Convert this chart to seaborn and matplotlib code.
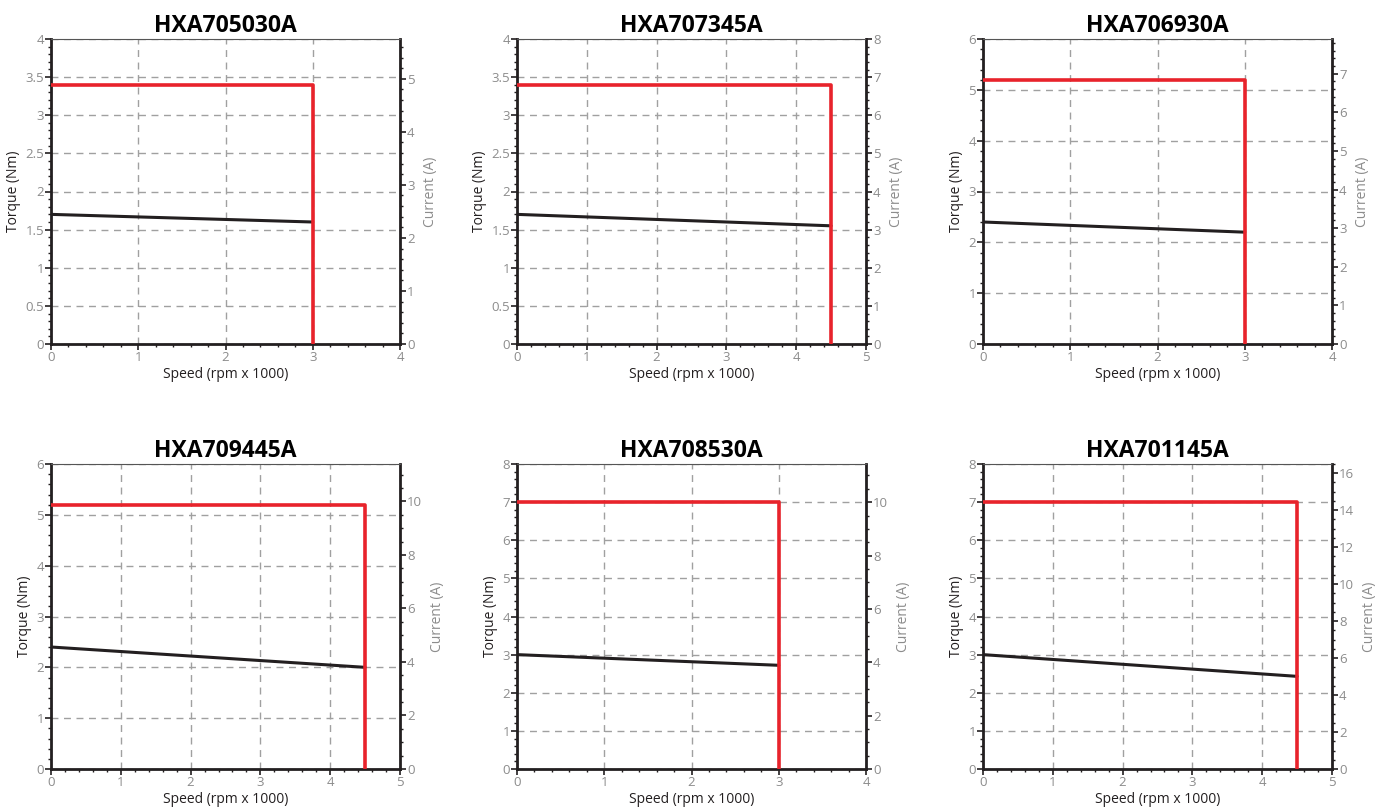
"""Torque-speed curves for six HXA servo motors, 2x3 grid."""
import numpy as np
import pandas as pd
import matplotlib
matplotlib.use("Agg")
import matplotlib.pyplot as plt
from matplotlib.ticker import MultipleLocator, AutoMinorLocator, FuncFormatter
import seaborn as sns

# ── data ─────────────────────────────────────────────────────────────────────
MODELS       = ["HXA705030A", "HXA707345A", "HXA706930A",
                "HXA709445A", "HXA708530A", "HXA701145A"]
MAX_SPEED    = [3.0, 4.5, 3.0, 4.5, 3.0, 4.5]      # rpm x 1000
PEAK_TORQUE  = [3.4, 3.4, 5.2, 5.2, 7.0, 7.0]      # Nm
CONT_START   = [1.7, 1.7, 2.4, 2.4, 3.0, 3.0]      # Nm at 0 rpm
CONT_END     = [1.6, 1.55, 2.2, 2.0, 2.72, 2.43]   # Nm at max speed
SPEED_LIM    = [4, 5, 4, 5, 4, 5]
TORQUE_LIM   = [4, 4, 6, 6, 8, 8]
TORQUE_STEP  = [0.5, 0.5, 1, 1, 1, 1]
CURRENT_LIM  = [5.75, 8, 7.9, 11.4, 11.43, 16.5]   # A at top of right axis
CURRENT_STEP = [1, 1, 1, 2, 2, 2]

RED, BLACK, GREY = "#e8232b", "#231f20", "#8c8c8c"

sns.set_style("ticks")
plt.rcParams["font.family"] = ["Open Sans", "DejaVu Sans"]

# axes rectangles (pixels), matched to the reference layout
W, H = 1379, 809
LEFTS = [51, 517, 983]
WIDTH = 349
TOPS = [39, 464]
HEIGHT = 305

fig = plt.figure(figsize=(W / 100, H / 100), dpi=100)

for k, name in enumerate(MODELS):
    r, c = divmod(k, 3)
    rect = [LEFTS[c] / W, 1 - (TOPS[r] + HEIGHT) / H, WIDTH / W, HEIGHT / H]
    ax = fig.add_axes(rect)

    s, tp = MAX_SPEED[k], PEAK_TORQUE[k]
    peak = pd.DataFrame({"speed": [0, s, s], "torque": [tp, tp, 0]})
    cont = pd.DataFrame({"speed": [0, s], "torque": [CONT_START[k], CONT_END[k]]})

    sns.lineplot(data=cont, x="speed", y="torque", sort=False, estimator=None,
                 color=BLACK, linewidth=2.2, ax=ax, zorder=3)
    sns.lineplot(data=peak, x="speed", y="torque", sort=False, estimator=None,
                 color=RED, linewidth=2.6, ax=ax, zorder=4)

    ax.set_xlim(0, SPEED_LIM[k]); ax.set_ylim(0, TORQUE_LIM[k])
    ax.xaxis.set_major_locator(MultipleLocator(1))
    ax.xaxis.set_minor_locator(AutoMinorLocator(5))
    ax.yaxis.set_major_locator(MultipleLocator(TORQUE_STEP[k]))
    ax.yaxis.set_minor_locator(AutoMinorLocator(5))
    ax.yaxis.set_major_formatter(FuncFormatter(lambda v, p: f"{v:g}"))

    ax.grid(True, which="major", color="#a0a0a0", linestyle=(0, (5, 4)), linewidth=1)
    ax.set_axisbelow(True)
    ax.tick_params(which="both", direction="out", colors=BLACK, labelcolor=GREY,
                   labelsize=9.5, pad=1)
    ax.tick_params(which="major", length=4, width=1.2)
    ax.tick_params(which="minor", length=2.5, width=1)

    for side in ["left", "bottom", "right"]:
        ax.spines[side].set_linewidth(2)
        ax.spines[side].set_color(BLACK)
        ax.spines[side].set_visible(True)
    ax.spines["top"].set_visible(True)
    ax.spines["top"].set_linewidth(0.8)
    ax.spines["top"].set_color("#555555")

    ax.set_xlabel("Speed (rpm x 1000)", fontsize=10, color=BLACK, labelpad=2)
    ax.set_ylabel("Torque (Nm)", fontsize=10, color=BLACK, labelpad=3)
    ax.set_title(name, fontsize=16.5, fontweight="bold", color="black", pad=5)

    ax2 = ax.twinx()
    ax2.set_ylim(0, CURRENT_LIM[k])
    ax2.yaxis.set_major_locator(MultipleLocator(CURRENT_STEP[k]))
    ax2.yaxis.set_minor_locator(AutoMinorLocator(5 if CURRENT_STEP[k] == 1 else 4))
    ax2.tick_params(which="both", direction="out", colors=BLACK, labelcolor=GREY,
                    labelsize=9.5, pad=1)
    ax2.tick_params(which="major", length=4, width=1.2)
    ax2.tick_params(which="minor", length=2.5, width=1)
    for sp in ax2.spines.values():
        sp.set_visible(False)
    ax2.set_ylabel("Current (A)", fontsize=10, color=GREY, labelpad=6)
    ax2.grid(False)

fig.savefig("out.png", dpi=100)
